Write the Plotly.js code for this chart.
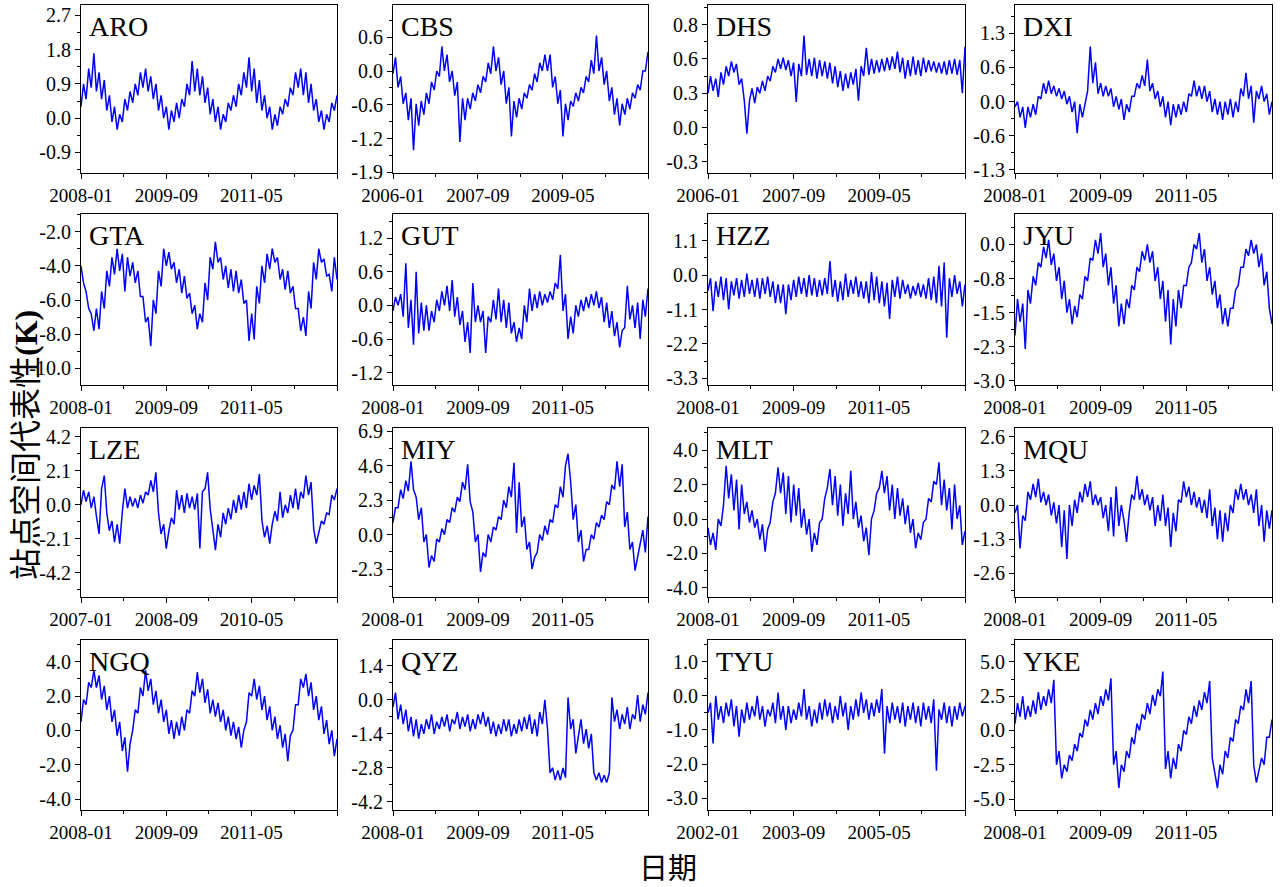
<!DOCTYPE html>
<html><head><meta charset="utf-8">
<script src="https://cdn.plot.ly/plotly-3.0.1.min.js"></script>
<style>html,body{margin:0;padding:0;background:#fff}#chart{width:1280px;height:887px}</style>
</head><body><div id="chart"></div>
<script>
// ---------- data ----------
const stationNames = ['ARO','CBS','DHS','DXI','GTA','GUT','HZZ','JYU','LZE','MIY','MLT','MQU','NGQ','QYZ','TYU','YKE'];
const startMonths  = ['2008-01','2006-01','2006-01','2008-01','2008-01','2008-01','2008-01','2008-01','2007-01','2008-01','2008-01','2008-01','2008-01','2008-01','2002-01','2008-01'];

const aroVals = [0.3,0.9,0.5,1.3,0.8,1.7,0.7,1.2,0.5,1.0,0.2,0.6,-0.1,0.3,-0.3,0.1,-0.1,0.5,0.2,0.7,
0.4,0.9,0.6,1.2,0.8,1.3,0.7,1.1,0.5,0.9,0.2,0.6,0.0,0.3,-0.3,0.2,-0.1,0.4,0.0,0.5,
0.3,0.9,0.6,1.5,0.7,1.3,0.6,1.1,0.4,0.8,0.1,0.5,-0.1,0.3,-0.3,0.1,-0.1,0.4,0.2,0.6,
0.3,0.9,0.6,1.2,0.8,1.6,0.7,1.3,0.4,1.0,0.2,0.6,0.0,0.3,-0.3,0.1,-0.2,0.3,0.1,0.5,
0.3,0.8,0.6,1.2,0.8,1.3,0.6,1.2,0.4,0.9,0.2,0.5,-0.1,0.2,-0.3,0.1,-0.1,0.4,0.2,0.6];
const cbsVals = [-0.05,0.25,-0.3,-0.1,-0.6,-0.4,-0.9,-0.5,-1.45,-0.6,-1.0,-0.55,-0.8,-0.4,-0.6,-0.2,-0.35,0.0,-0.1,0.45,
0.0,0.3,-0.2,0.0,-0.45,-0.2,-1.3,-0.5,-0.9,-0.5,-0.7,-0.4,-0.55,-0.25,-0.4,-0.1,-0.2,0.15,-0.05,0.45,
0.0,0.25,-0.25,0.0,-0.6,-0.3,-1.2,-0.55,-0.85,-0.5,-0.7,-0.4,-0.5,-0.25,-0.35,-0.05,-0.2,0.15,0.0,0.3,
0.0,0.3,-0.3,-0.1,-0.6,-0.35,-1.2,-0.6,-0.9,-0.55,-0.65,-0.4,-0.55,-0.3,-0.4,-0.1,-0.2,0.2,-0.05,0.65,
0.0,0.25,-0.25,0.0,-0.55,-0.3,-0.8,-0.5,-1.0,-0.6,-0.8,-0.5,-0.7,-0.4,-0.5,-0.25,-0.35,0.0,0.0,0.35];
const dhsVals = [0.28,0.42,0.3,0.4,0.25,0.45,0.35,0.5,0.42,0.54,0.45,0.52,0.35,0.4,0.22,-0.05,0.22,0.32,0.2,0.33,
0.28,0.38,0.3,0.42,0.38,0.5,0.45,0.56,0.48,0.57,0.47,0.55,0.42,0.53,0.21,0.52,0.42,0.75,0.43,0.56,
0.42,0.57,0.4,0.55,0.42,0.54,0.4,0.53,0.36,0.5,0.33,0.46,0.3,0.44,0.32,0.45,0.35,0.48,0.22,0.5,
0.42,0.65,0.43,0.56,0.44,0.55,0.45,0.56,0.46,0.57,0.47,0.58,0.48,0.62,0.45,0.57,0.4,0.55,0.42,0.58,
0.43,0.55,0.42,0.57,0.45,0.55,0.46,0.54,0.45,0.53,0.44,0.54,0.43,0.55,0.44,0.56,0.43,0.55,0.28,0.66];
const dxiVals = [-0.1,0.0,-0.3,-0.1,-0.5,-0.1,-0.3,-0.05,-0.25,0.1,0.05,0.35,0.15,0.4,0.15,0.3,0.1,0.25,0.05,0.2,
-0.05,0.1,-0.2,0.0,-0.6,-0.05,-0.3,0.0,0.2,1.05,0.35,0.75,0.15,0.35,0.1,0.3,0.1,0.25,-0.1,0.1,
-0.15,0.05,-0.35,-0.05,-0.2,0.1,0.1,0.35,0.25,0.5,0.3,0.8,0.2,0.35,0.05,0.2,-0.1,0.1,-0.3,0.0,
-0.45,-0.05,-0.3,-0.05,-0.25,0.0,-0.2,0.15,0.1,0.4,0.1,0.3,0.05,0.3,0.0,0.2,-0.2,0.05,-0.25,0.0,
-0.35,0.0,-0.25,0.05,-0.3,0.0,-0.2,0.25,0.1,0.55,0.05,0.3,-0.4,0.2,0.05,0.3,0.0,0.15,-0.25,0.0];
const gtaVals = [-4.0,-5.0,-5.5,-6.5,-6.8,-7.8,-6.5,-7.7,-5.5,-6.5,-4.3,-5.2,-3.5,-4.5,-3.0,-4.3,-3.3,-5.5,-3.5,-4.6,
-3.8,-5.0,-4.3,-5.8,-5.8,-7.3,-7.0,-8.7,-6.0,-6.8,-4.3,-5.2,-3.0,-4.0,-3.2,-4.2,-3.8,-5.0,-4.2,-5.6,
-4.6,-5.9,-5.6,-6.8,-6.3,-7.7,-6.8,-7.3,-5.0,-6.0,-3.5,-4.2,-2.6,-3.8,-3.5,-4.8,-4.0,-5.3,-4.2,-5.5,
-4.3,-5.6,-4.8,-6.2,-6.0,-8.4,-6.8,-8.3,-5.2,-6.2,-4.0,-5.0,-3.3,-4.2,-3.0,-3.8,-3.5,-4.8,-4.2,-5.4,
-4.3,-5.6,-5.2,-6.5,-6.5,-7.8,-7.0,-8.1,-5.5,-6.5,-3.8,-4.8,-3.0,-3.8,-3.6,-4.6,-4.5,-5.5,-3.5,-4.8];
const gutVals = [-0.1,0.15,0.0,0.2,-0.2,0.75,-0.4,0.1,-0.7,0.6,-0.5,0.05,-0.45,0.0,-0.45,-0.1,-0.3,0.1,-0.1,0.25,
0.0,0.35,-0.1,0.45,-0.2,0.15,-0.35,-0.1,-0.65,-0.3,-0.85,0.4,-0.3,0.0,-0.3,-0.1,-0.85,-0.2,-0.3,0.1,
-0.25,0.3,-0.3,0.1,-0.4,0.05,-0.5,-0.3,-0.65,-0.4,-0.6,0.0,-0.3,0.3,-0.1,0.2,-0.05,0.25,0.0,0.2,
0.05,0.25,0.1,0.4,0.3,0.9,-0.1,0.2,-0.6,-0.2,-0.5,0.0,-0.2,0.1,-0.1,0.15,-0.05,0.2,0.0,0.25,
-0.05,0.15,-0.3,0.05,-0.4,-0.1,-0.55,-0.3,-0.75,-0.45,-0.4,0.35,-0.25,0.0,-0.4,0.05,-0.6,0.1,-0.2,0.3];
const hzzVals = [-0.5,-0.1,-1.15,-0.2,-0.7,-0.05,-0.8,-0.1,-1.1,-0.2,-0.65,-0.1,-0.75,-0.15,-0.7,0.05,-0.6,-0.15,-0.7,-0.1,
-0.75,-0.1,-0.6,-0.05,-0.7,-0.2,-0.9,-0.3,-0.9,-0.3,-1.25,-0.3,-0.8,-0.15,-0.7,-0.05,-0.6,-0.1,-0.7,0.0,
-0.65,-0.1,-0.7,-0.15,-0.65,-0.1,-0.6,0.45,-0.7,-0.15,-0.85,-0.2,-0.8,0.05,-0.7,-0.15,-0.6,-0.05,-0.7,-0.2,
-0.75,-0.2,-0.9,0.1,-0.8,-0.05,-0.9,-0.2,-1.0,-0.25,-1.4,-0.15,-0.7,-0.05,-0.75,-0.15,-0.6,-0.3,-0.75,-0.35,
-0.65,-0.25,-0.7,-0.3,-0.75,-0.1,-0.8,-0.05,-0.9,0.3,-1.0,0.4,-2.0,-0.1,-0.7,0.0,-0.6,-0.2,-1.0,-0.3];
const jyuVals = [-2.0,-1.2,-1.7,-1.3,-2.3,-1.0,-1.3,-0.7,-0.9,-0.4,-0.5,-0.05,-0.3,0.1,-0.45,-0.2,-0.8,-0.5,-1.2,-0.8,
-1.5,-1.2,-1.75,-1.35,-1.6,-1.1,-1.2,-0.7,-0.8,-0.3,-0.35,0.1,-0.2,0.25,-0.5,-0.2,-0.9,-0.5,-1.3,-0.9,
-1.8,-1.3,-1.75,-1.2,-1.4,-0.9,-1.0,-0.5,-0.6,-0.15,-0.35,0.0,-0.4,-0.15,-0.8,-0.5,-1.2,-0.8,-1.7,-1.0,
-2.2,-1.2,-1.8,-1.0,-1.4,-0.9,-0.9,-0.5,-0.4,0.0,-0.1,0.25,-0.4,-0.1,-0.8,-0.5,-1.1,-0.8,-1.4,-1.1,
-1.75,-1.4,-1.8,-1.4,-1.4,-1.0,-0.9,-0.5,-0.5,-0.1,-0.25,0.1,-0.2,0.0,-0.5,-0.2,-0.9,-0.6,-1.4,-1.75];
const lzeVals = [0.0,0.9,0.2,0.8,-0.2,0.5,-0.7,-1.8,1.0,1.8,-0.5,-1.6,-1.0,-2.3,-1.2,-2.4,-0.4,1.0,-0.2,0.5,
-0.1,0.4,-0.2,0.6,0.1,0.8,0.6,1.5,0.8,2.0,-0.5,-1.8,-1.2,-2.7,-1.6,-0.8,-1.2,0.9,-0.3,0.6,
-0.5,0.7,-0.2,0.5,-0.3,0.7,-2.7,0.8,1.0,2.0,-0.3,-1.5,-2.8,-1.2,-2.0,-0.5,-1.2,-0.2,-0.9,0.3,
-0.5,0.6,-0.3,0.8,-0.2,1.3,0.3,1.2,0.6,1.9,-1.0,-2.0,-1.3,-2.4,-1.2,-0.4,-1.0,0.8,-0.8,0.0,
-0.5,0.6,-0.2,1.0,-0.3,0.8,0.4,1.8,0.6,1.4,-1.5,-2.4,-1.8,-1.0,-1.2,-0.5,-0.6,0.6,0.3,1.0];
const miyVals = [0.8,1.8,1.8,3.0,2.4,3.6,2.9,4.9,3.0,2.5,1.0,1.8,-0.5,0.0,-2.2,-1.4,-1.8,-0.3,-0.5,0.4,
0.0,1.0,0.8,1.8,1.5,2.5,2.2,3.5,3.0,4.7,2.2,1.5,-0.5,0.0,-2.5,-1.2,-1.5,0.0,-0.5,0.5,
0.3,1.2,1.0,2.3,1.8,3.2,2.5,4.8,0.1,3.5,0.5,1.2,-1.0,-0.5,-2.3,-1.5,-1.2,0.0,-0.4,0.6,
0.0,1.0,0.8,2.0,1.8,3.2,2.5,4.6,5.4,3.5,1.0,2.0,-0.5,0.3,-1.8,-1.0,-1.0,0.0,-0.3,0.8,
0.5,1.3,1.0,2.2,2.0,3.3,3.0,4.9,3.2,4.7,0.5,1.5,-1.0,-0.5,-2.4,-1.5,-0.5,0.3,-1.2,1.2];
const mltVals = [-0.5,-1.5,-0.8,-1.8,0.0,-0.4,0.8,3.1,1.2,2.6,0.5,2.3,-0.6,2.0,0.3,1.0,-0.2,0.5,-0.5,0.0,
-1.2,-0.3,-1.9,-0.6,-0.2,1.0,1.5,3.0,1.5,2.7,0.3,2.5,-0.2,2.0,0.2,1.8,-0.5,0.6,-0.9,0.0,
-1.9,-0.8,-1.5,-0.2,0.0,1.2,1.8,2.9,0.8,2.5,0.2,2.0,-0.4,1.5,0.3,2.8,0.0,1.0,-0.5,0.2,
-1.3,-0.5,-2.1,0.0,0.5,1.5,1.8,2.8,1.5,2.5,0.5,2.0,0.0,1.8,0.2,1.2,-0.3,0.8,-0.8,0.0,
-1.7,-0.8,-1.2,-0.2,0.0,1.2,1.0,2.2,2.0,3.3,0.8,2.3,0.5,1.8,-0.6,2.0,0.0,0.8,-1.5,-0.7];
const mquVals = [-0.3,0.0,-1.65,-0.4,-0.6,0.5,0.2,0.8,0.3,1.0,0.1,0.5,0.0,0.4,-0.4,0.1,-0.7,0.0,-1.6,-0.2,
-2.05,0.0,-0.8,0.2,-0.3,0.5,0.1,0.8,0.3,0.9,0.0,0.4,0.0,0.3,-0.5,0.0,-1.0,0.3,-1.2,0.7,
-0.8,0.0,-0.6,-1.4,-0.3,0.4,0.2,1.1,0.2,0.6,0.0,0.4,-0.2,0.3,-0.8,0.0,-0.6,0.4,-0.8,-0.1,
-1.6,-0.3,-1.0,0.2,0.1,0.9,0.3,0.7,0.0,0.5,-0.1,0.3,-0.3,0.2,-0.5,0.6,-0.8,-0.1,-1.3,-0.2,
-1.4,-0.3,-1.0,0.0,-0.3,0.6,0.2,0.8,0.2,0.6,0.0,0.4,-0.3,0.6,-0.8,0.0,-1.4,-0.2,-0.9,-0.2];
const ngqVals = [0.5,1.8,1.5,2.8,2.5,3.5,2.5,3.2,1.8,2.6,1.2,2.0,0.5,1.2,-0.3,0.5,-1.2,-0.4,-2.4,-0.8,
0.0,1.2,1.0,2.5,2.0,3.5,2.3,3.0,1.5,2.3,1.0,1.8,0.5,1.2,-0.2,0.6,-0.5,0.5,-0.3,0.8,
0.0,1.2,1.0,2.3,2.0,3.4,2.2,3.0,1.6,2.4,1.0,1.8,0.8,1.6,0.5,1.2,0.0,0.8,-0.3,0.5,
-0.5,0.2,-1.0,0.0,0.5,2.2,2.0,3.0,1.8,2.6,1.2,2.0,0.6,1.4,0.0,0.8,-0.5,0.3,-1.0,-0.2,
-1.8,-0.3,0.0,1.5,1.5,3.0,2.5,3.3,2.0,2.8,1.2,2.0,0.6,1.4,-0.2,0.6,-0.8,0.0,-1.5,-0.5];
const qyzVals = [-0.3,0.3,-0.8,-0.2,-1.0,-0.4,-1.3,-0.7,-1.5,-0.8,-1.6,-1.0,-1.4,-0.8,-1.2,-0.6,-1.4,-0.9,-1.2,-0.7,
-1.1,-0.6,-1.3,-0.8,-1.0,-0.5,-1.2,-0.7,-1.1,-0.6,-1.3,-0.8,-1.2,-0.6,-1.0,-0.5,-1.1,-0.7,-1.4,-0.9,
-1.5,-1.0,-1.4,-0.8,-1.3,-0.8,-1.5,-1.0,-1.4,-0.8,-1.3,-0.7,-1.2,-0.6,-1.4,-0.8,-1.5,-0.5,-1.0,0.0,
-1.2,-3.0,-2.8,-3.3,-2.9,-3.3,-2.8,-3.2,0.1,-1.2,-0.8,-2.2,-1.5,-0.8,-1.8,-1.2,-2.0,-1.4,-3.0,-3.3,
-3.0,-3.4,-3.1,-3.4,-3.0,0.1,-0.9,-0.4,-1.2,-0.6,-1.0,-0.3,-1.2,-0.6,-0.8,0.2,-0.9,-0.2,-0.6,0.3];
const tyuVals = [-0.5,-0.2,-1.4,0.0,-0.7,-0.3,-0.8,-0.2,-0.6,-0.1,-0.9,-0.3,-1.2,-0.4,-0.8,-0.2,-0.7,-0.3,-0.6,0.0,
-0.7,-0.3,-0.9,-0.4,-0.6,-0.2,-0.8,0.1,-0.7,-0.3,-1.0,-0.3,-0.8,-0.4,-0.7,-0.2,-0.6,0.2,-0.7,-0.3,
-0.9,-0.4,-0.8,-0.2,-0.7,-0.1,-0.6,-0.2,-0.8,-0.3,-0.7,0.0,-0.6,-0.2,-1.0,-0.3,-0.7,-0.1,-0.6,0.1,
-0.5,-0.1,-0.7,-0.2,-0.6,-0.1,-0.5,0.2,-1.7,-0.3,-0.8,-0.2,-0.7,-0.3,-0.8,-0.2,-0.9,-0.3,-0.7,-0.2,
-0.8,-0.3,-0.9,-0.2,-0.7,-0.3,-0.8,-0.1,-2.2,-0.4,-0.7,-0.2,-0.8,-0.3,-0.9,-0.3,-0.7,-0.2,-0.6,-0.3];
const ykeVals = [0.5,2.0,1.0,2.5,0.8,1.8,1.0,2.2,1.2,2.8,1.5,2.5,1.8,3.0,2.0,3.7,-2.5,-1.5,-3.5,-2.5,
-3.0,-1.8,-2.2,-1.0,-1.5,-0.2,-0.5,0.8,0.3,1.5,0.8,2.0,1.2,2.5,1.8,3.0,2.2,3.8,-2.5,-1.5,
-4.2,-2.5,-3.0,-1.5,-2.0,-0.5,-1.0,0.5,0.0,1.2,0.8,2.0,1.2,2.6,1.8,3.0,2.5,4.3,-2.8,-1.5,
-3.5,-2.0,-2.8,-1.0,-1.5,0.0,-0.3,1.0,0.5,1.8,1.0,2.2,1.5,2.8,2.0,3.6,-2.0,-3.0,-4.2,-2.5,
-3.2,-1.5,-2.0,-0.5,-0.8,0.8,0.5,1.8,1.5,3.0,2.0,3.6,-2.5,-3.8,-3.0,-2.0,-2.5,-0.5,-0.5,0.8];

// y tick values and tick labels for each panel
const aroTicks=[-0.9,0,0.9,1.8,2.7], aroTickText=['-0.9','0.0','0.9','1.8','2.7'];
const cbsTicks=[-1.86,-1.24,-0.62,0,0.62], cbsTickText=['-1.9','-1.2','-0.6','0.0','0.6'];
const dhsTicks=[-0.28,0,0.28,0.56,0.84], dhsTickText=['-0.3','0.0','0.3','0.6','0.8'];
const dxiTicks=[-1.3,-0.65,0,0.65,1.3], dxiTickText=['-1.3','-0.6','0.0','0.6','1.3'];
const gtaTicks=[-10,-8,-6,-4,-2], gtaTickText=['-10.0','-8.0','-6.0','-4.0','-2.0'];
const gutTicks=[-1.2,-0.6,0,0.6,1.2], gutTickText=['-1.2','-0.6','0.0','0.6','1.2'];
const hzzTicks=[-3.3,-2.2,-1.1,0,1.1], hzzTickText=['-3.3','-2.2','-1.1','0.0','1.1'];
const jyuTicks=[-3.0,-2.25,-1.5,-0.75,0], jyuTickText=['-3.0','-2.3','-1.5','-0.8','0.0'];
const lzeTicks=[-4.2,-2.1,0,2.1,4.2], lzeTickText=['-4.2','-2.1','0.0','2.1','4.2'];
const miyTicks=[-2.3,0,2.3,4.6,6.9], miyTickText=['-2.3','0.0','2.3','4.6','6.9'];
const mltTicks=[-4,-2,0,2,4], mltTickText=['-4.0','-2.0','0.0','2.0','4.0'];
const mquTicks=[-2.6,-1.3,0,1.3,2.6], mquTickText=['-2.6','-1.3','0.0','1.3','2.6'];
const ngqTicks=[-4,-2,0,2,4], ngqTickText=['-4.0','-2.0','0.0','2.0','4.0'];
const qyzTicks=[-4.2,-2.8,-1.4,0,1.4], qyzTickText=['-4.2','-2.8','-1.4','0.0','1.4'];
const tyuTicks=[-3,-2,-1,0,1], tyuTickText=['-3.0','-2.0','-1.0','0.0','1.0'];
const ykeTicks=[-5,-2.5,0,2.5,5], ykeTickText=['-5.0','-2.5','0.0','2.5','5.0'];

// ---------- layout helpers ----------
const seriesList = [aroVals,cbsVals,dhsVals,dxiVals,gtaVals,gutVals,hzzVals,jyuVals,lzeVals,miyVals,mltVals,mquVals,ngqVals,qyzVals,tyuVals,ykeVals];
const tickList = [aroTicks,cbsTicks,dhsTicks,dxiTicks,gtaTicks,gutTicks,hzzTicks,jyuTicks,lzeTicks,miyTicks,mltTicks,mquTicks,ngqTicks,qyzTicks,tyuTicks,ykeTicks];
const tickTextList = [aroTickText,cbsTickText,dhsTickText,dxiTickText,gtaTickText,gutTickText,hzzTickText,jyuTickText,lzeTickText,miyTickText,mltTickText,mquTickText,ngqTickText,qyzTickText,tyuTickText,ykeTickText];
const yRanges = [[-1.44,2.97],[-1.87,1.21],[-0.37,1.0],[-1.36,1.84],[-10.97,-0.97],[-1.42,1.63],[-3.51,1.95],[-3.09,0.67],
                 [-5.69,4.74],[-4.17,7.12],[-4.53,5.29],[-3.5,2.93],[-4.64,5.27],[-4.53,2.46],[-3.35,1.64],[-5.8,6.6]];
const colPx = [[81,337],[393,648],[708,965],[1015,1272]];
const rowPx = [[5,173],[214,385],[428,597],[640,810]];
const W=1280, H=887;
const SERIF='Liberation Serif, Times New Roman, serif';

function ym(s, k){ const y=+s.slice(0,4), m=+s.slice(5,7)-1+k; const yy=y+Math.floor(m/12), mm=((m%12)+12)%12+1; return yy+'-'+String(mm).padStart(2,'0'); }
function dateSeq(s, n){
  const a=Date.UTC(+s.slice(0,4), +s.slice(5,7)-1, 1);
  const e=ym(s,60); const b=Date.UTC(+e.slice(0,4), +e.slice(5,7)-1, 1);
  const st=(b-a)/(n-1);
  return Array.from({length:n},(_,i)=>new Date(a+i*st).toISOString().slice(0,10));
}

const traces=[], layout={
  width:W, height:H, margin:{l:0,r:0,t:0,b:0}, showlegend:false,
  font:{family:SERIF, color:'#000'},
  paper_bgcolor:'#fff', plot_bgcolor:'#fff', annotations:[]
};

stationNames.forEach((name,k)=>{
  const r=Math.floor(k/4), c=k%4;
  const xid = k===0?'x':'x'+(k+1), yid = k===0?'y':'y'+(k+1);
  const xk = k===0?'xaxis':'xaxis'+(k+1), yk = k===0?'yaxis':'yaxis'+(k+1);
  const s=startMonths[k];
  traces.push({type:'scatter', mode:'lines', x:dateSeq(s, seriesList[k].length), y:seriesList[k],
    xaxis:xid, yaxis:yid, line:{color:'#0000ff', width:1.5}, hoverinfo:'skip'});
  const majors=[0,20,40,60].map(m=>ym(s,m)+'-01');
  const majText=[ym(s,0),ym(s,20),ym(s,40),''];
  const minors=[10,30,50].map(m=>ym(s,m)+'-01');
  layout[xk]={domain:[colPx[c][0]/W, colPx[c][1]/W], anchor:yid, type:'date',
    range:[ym(s,0)+'-01', ym(s,60)+'-01'],
    showline:true, mirror:true, linecolor:'#000', linewidth:1, showgrid:false, zeroline:false,
    ticks:'outside', ticklen:5, tickwidth:1, tickcolor:'#000',
    tickmode:'array', tickvals:majors, ticktext:majText, tickangle:0,
    tickfont:{family:SERIF, size:19, color:'#000'},
    minor:{tickmode:'array', tickvals:minors, ticks:'outside', ticklen:3, tickcolor:'#000', showgrid:false}};
  const tv=tickList[k], step=tv[1]-tv[0];
  const mv=[tv[0]-step/2]; for(let i=0;i<tv.length-1;i++) mv.push((tv[i]+tv[i+1])/2); mv.push(tv[tv.length-1]+step/2);
  layout[yk]={domain:[1-rowPx[r][1]/H, 1-rowPx[r][0]/H], anchor:xid, range:yRanges[k],
    showline:true, mirror:true, linecolor:'#000', linewidth:1, showgrid:false, zeroline:false,
    ticks:'outside', ticklen:5, tickwidth:1, tickcolor:'#000',
    tickmode:'array', tickvals:tv, ticktext:tickTextList[k],
    tickfont:{family:SERIF, size:20, color:'#000'},
    minor:{tickmode:'array', tickvals:mv, ticks:'outside', ticklen:3, tickcolor:'#000', showgrid:false}};
  layout.annotations.push({xref:xid+' domain', yref:yid+' domain', x:0.025, y:0.975, xanchor:'left', yanchor:'top',
    text:name, showarrow:false, font:{family:SERIF, size:28, color:'#000'}});
});

layout.annotations.push({xref:'paper', yref:'paper', x:23/W, y:1-445/H, xanchor:'center', yanchor:'middle', textangle:-90,
  text:'站点空间代表性<span style="font-family:Liberation Serif"><b>(K)</b></span>', showarrow:false,
  font:{family:'Noto Sans CJK SC, sans-serif', size:32, color:'#000'}});
layout.annotations.push({xref:'paper', yref:'paper', x:668/W, y:1-866/H, xanchor:'center', yanchor:'middle',
  text:'日期', showarrow:false, font:{family:'Noto Sans CJK SC, sans-serif', size:29, color:'#000'}});

Plotly.newPlot('chart', traces, layout, {displayModeBar:false, staticPlot:true});
</script>
</body></html>
